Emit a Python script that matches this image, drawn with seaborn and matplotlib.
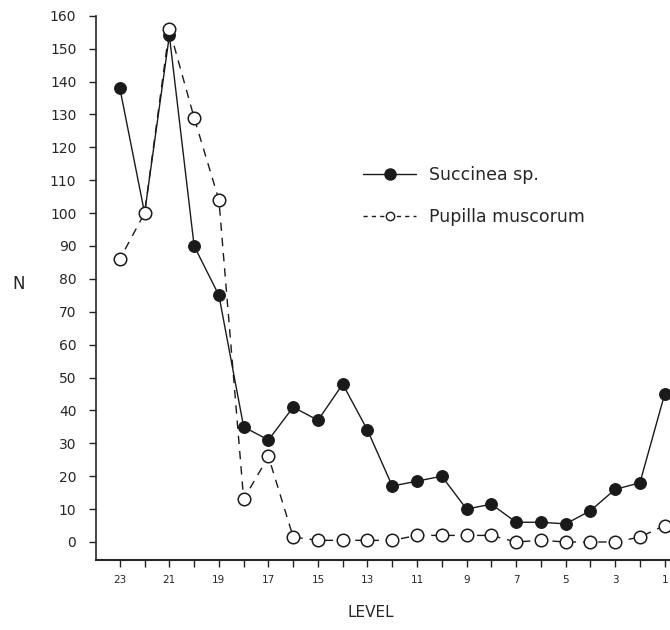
import numpy as np
import pandas as pd
import matplotlib
matplotlib.use('Agg')
import matplotlib.pyplot as plt
import seaborn as sns
from matplotlib.lines import Line2D

# levels run from 23 (left) to 1 (right)
levels = list(range(23, 0, -1))
succinea = [138, 100, 154, 90, 75, 35, 31, 41, 37, 48, 34, 17, 18.5, 20,
            10, 11.5, 6, 6, 5.5, 9.5, 16, 18, 45]
pupilla = [86, 100, 156, 129, 104, 13, 26, 1.5, 0.5, 0.5, 0.5, 0.5, 2, 2,
           2, 2, 0, 0.5, 0, 0, 0, 1.5, 5]
y_ticks = list(range(0, 161, 10))
x_labels = list(range(23, 0, -2))

sns.set_style('ticks')
plt.rcParams['font.family'] = ['DejaVu Sans']

fig = plt.figure(figsize=(6.7, 6.3), dpi=100)
ax = fig.add_axes([0.143, 0.111, 0.855, 0.864])

df = pd.DataFrame({'level': levels, 'succinea': succinea, 'pupilla': pupilla})

sns.lineplot(data=df, x='level', y='succinea', ax=ax, color='#1a1a1a', lw=1.0,
             marker='o', markersize=8.5, markerfacecolor='#1a1a1a',
             markeredgecolor='#1a1a1a', clip_on=False, label='_s')
sns.lineplot(data=df, x='level', y='pupilla', ax=ax, color='#1a1a1a', lw=1.0,
             linestyle=(0, (6, 5)), marker='o', markersize=9,
             markerfacecolor='white', markeredgecolor='#1a1a1a',
             markeredgewidth=1.1, clip_on=False, label='_p')

ax.set_xlim(23.97, 0.84)
ax.set_ylim(-5.5, 160)
ax.set_xticks(levels)
ax.set_xticklabels([str(l) if l in x_labels else '' for l in levels], fontsize=7.5)
ax.set_yticks(y_ticks)
ax.set_yticklabels([str(t) for t in y_ticks], fontsize=10)
ax.tick_params(axis='both', direction='out', length=5, width=1, color='#222222')
ax.tick_params(axis='y', pad=9)
ax.tick_params(axis='x', pad=6)

for s in ['top', 'right']:
    ax.spines[s].set_visible(False)
ax.spines['left'].set_linewidth(1.2)
ax.spines['bottom'].set_linewidth(1.5)

ax.set_xlabel('LEVEL', fontsize=11)
ax.xaxis.set_label_coords(0.48, -0.083)
ax.set_ylabel('N', fontsize=12, rotation=0)
ax.yaxis.set_label_coords(-0.135, 0.49)

handles = [
    Line2D([], [], color='#1a1a1a', lw=1, marker='o', markersize=8,
           markerfacecolor='#1a1a1a'),
    Line2D([], [], color='#1a1a1a', lw=1, linestyle=(0, (3, 3)), marker='o',
           markersize=6, markerfacecolor='white'),
]
ax.legend(handles, ['Succinea sp.', 'Pupilla muscorum'], loc='upper left',
          bbox_to_anchor=(0.44, 0.752), frameon=False, fontsize=12.5,
          handlelength=3.0, labelspacing=1.35, handletextpad=0.8)

fig.savefig('out.png', dpi=100)
